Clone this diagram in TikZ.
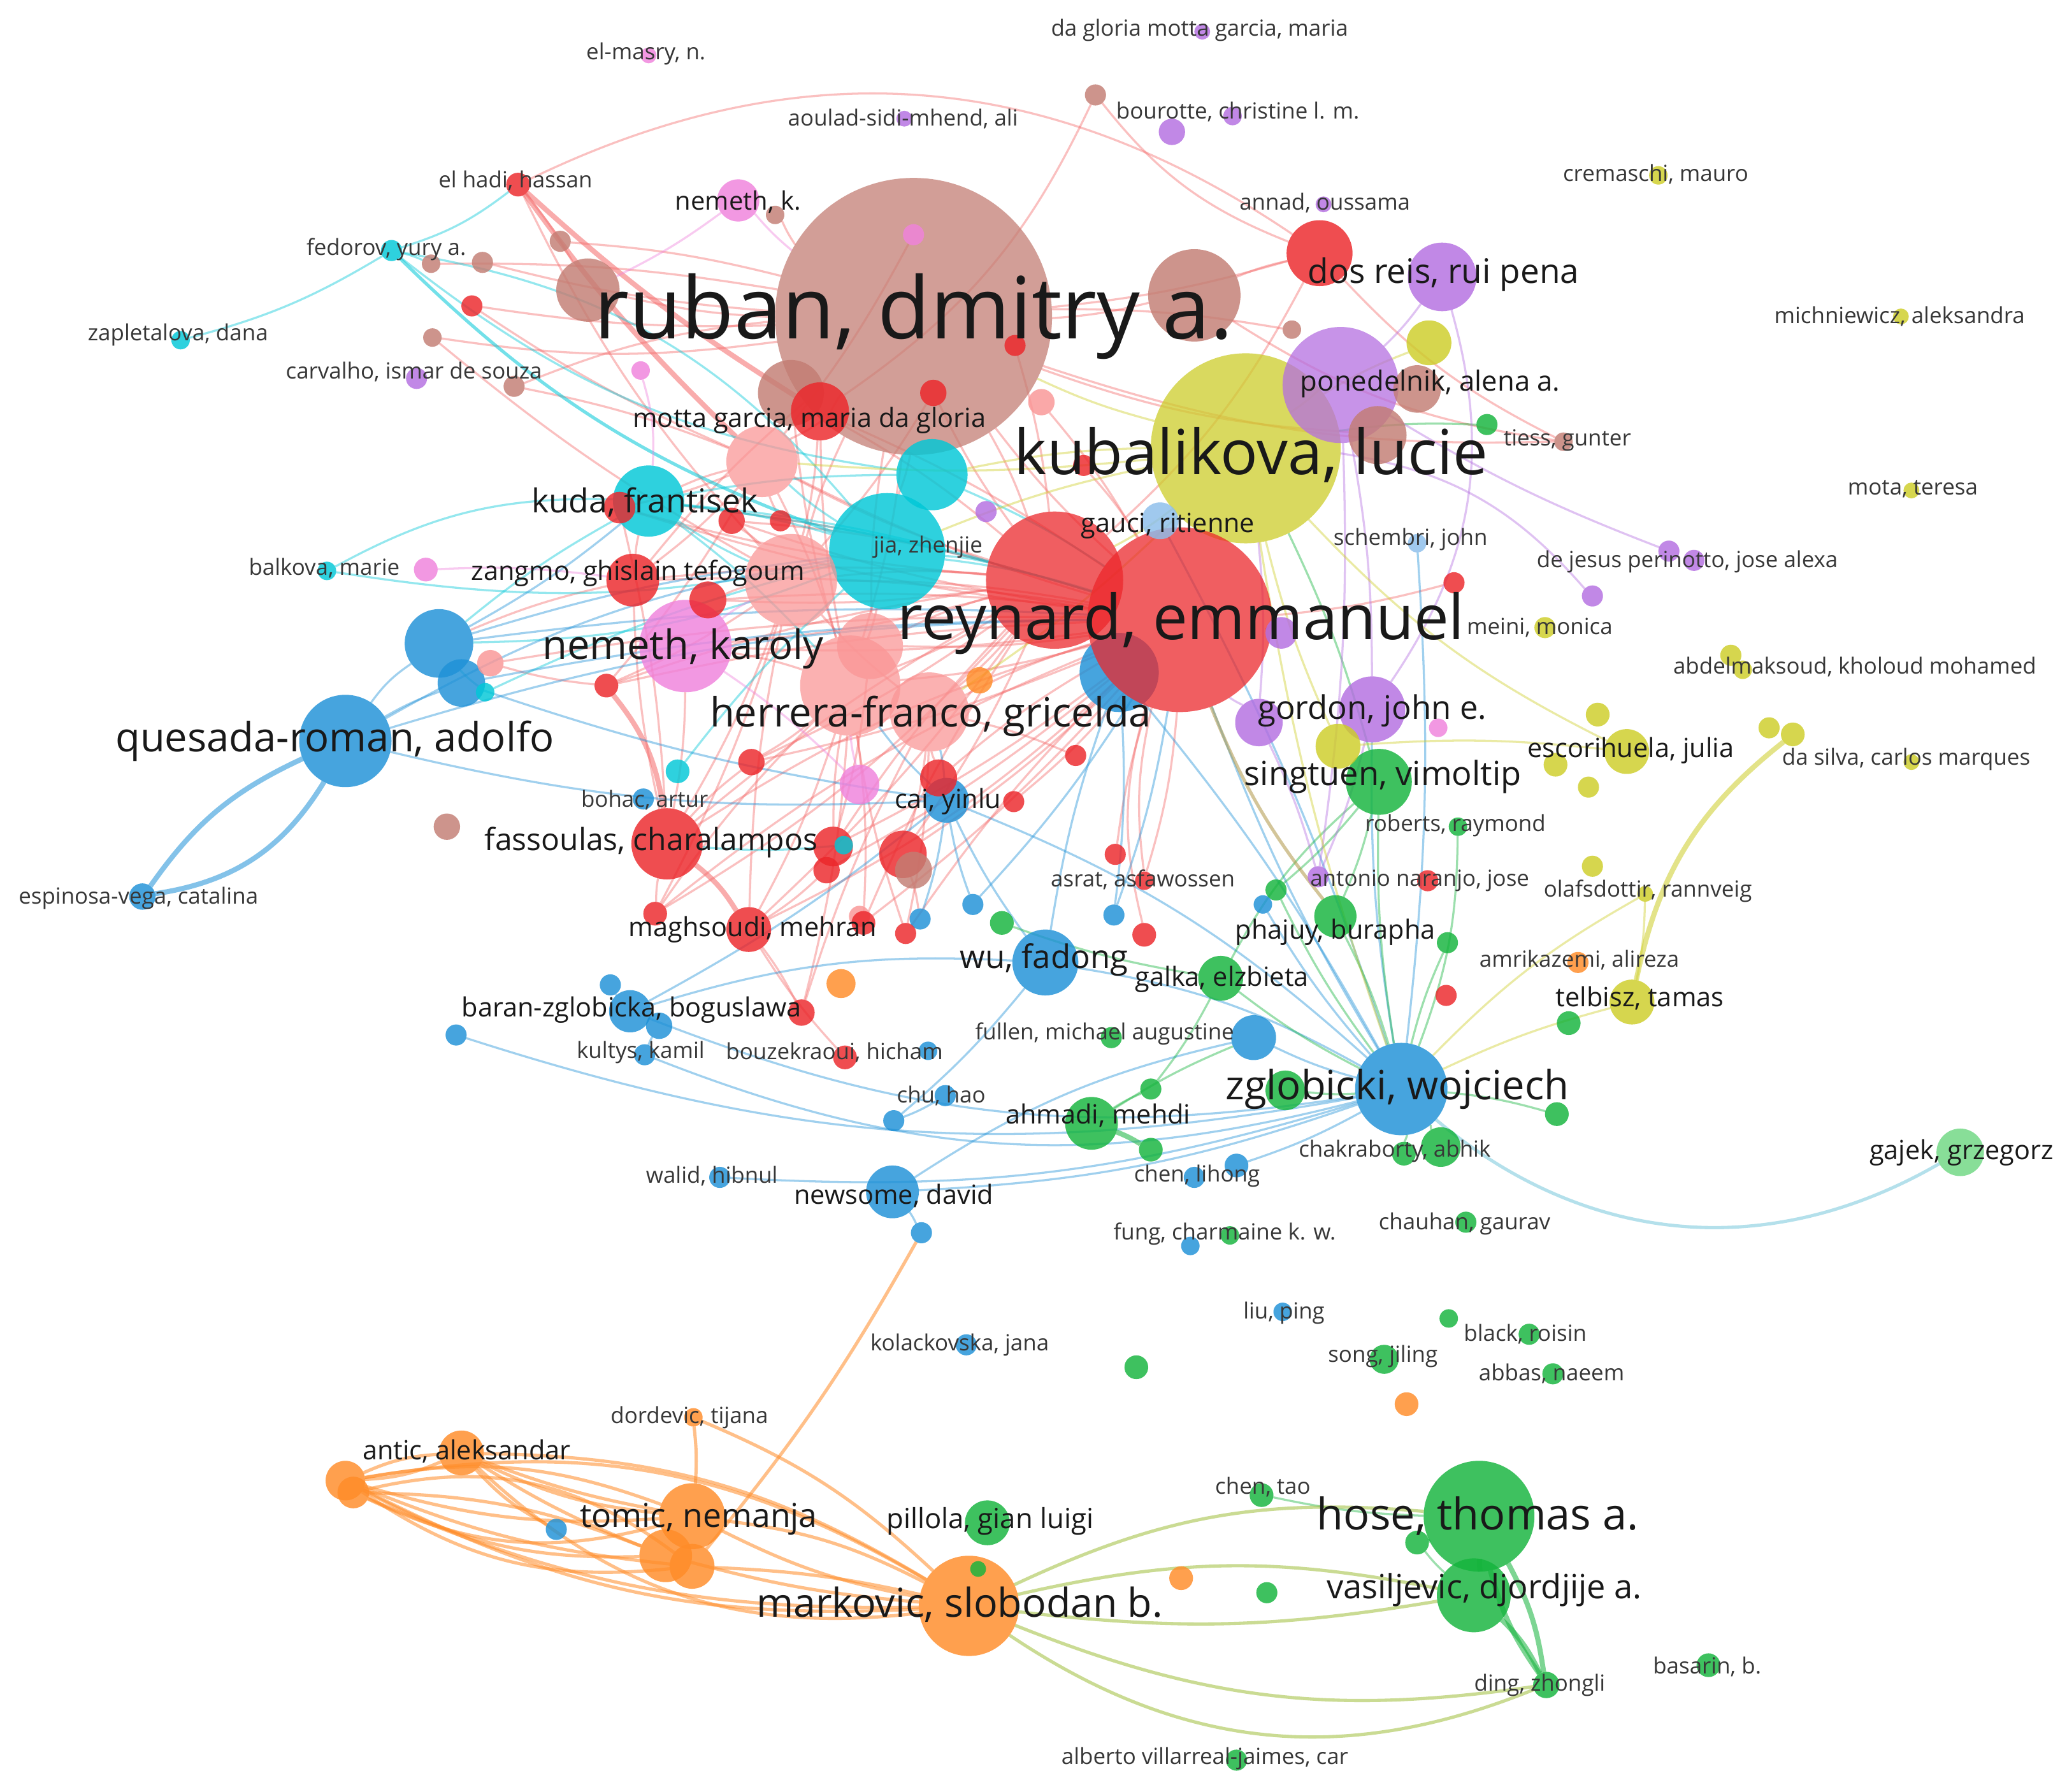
\documentclass[tikz,border=0pt]{standalone}
\usepackage{fontspec}
\setmainfont{Open Sans}
\definecolor{cR}{RGB}{236,38,42}
\definecolor{cRe}{RGB}{245,105,105}
\definecolor{cRL}{RGB}{250,150,150}
\definecolor{cBr}{RGB}{195,125,115}
\definecolor{cCy}{RGB}{0,200,215}
\definecolor{cBl}{RGB}{30,145,215}
\definecolor{cBlL}{RGB}{140,190,235}
\definecolor{cG}{RGB}{20,180,60}
\definecolor{cGL}{RGB}{110,215,130}
\definecolor{cY}{RGB}{205,205,40}
\definecolor{cP}{RGB}{180,110,225}
\definecolor{cPk}{RGB}{240,130,220}
\definecolor{cO}{RGB}{255,140,40}
\definecolor{cOl}{RGB}{175,150,70}
\definecolor{cGO}{RGB}{160,190,60}
\definecolor{cGj}{RGB}{120,200,220}
\definecolor{labc}{RGB}{25,25,25}
\definecolor{labs}{RGB}{55,55,55}
\pgfdeclarelayer{bgl}
\pgfdeclarelayer{edl}
\pgfsetlayers{bgl,edl,main}
\tikzset{
  au/.style={circle, inner sep=0pt, outer sep=0pt, draw=none, fill=#1, fill opacity=0.82},
  aub/.style={circle, inner sep=0pt, outer sep=0pt, draw=none, fill=#1, fill opacity=0.74},
  lab/.style={inner sep=0pt, text=labc},
  labsm/.style={inner sep=0pt, text=labs},
  edge/.style={draw=#1, line width=0.45pt, draw opacity=0.42},
  edgeT/.style={draw=#1, line width=1.1pt, draw opacity=0.55},
  edgeO/.style={draw=#1, line width=0.7pt, draw opacity=0.55},
}
\newcommand\AU[4]{\node[au=#4, minimum size=#3*0.02cm] (#1) at (#2) {};}
\newcommand\AB[4]{\node[aub=#4, minimum size=#3*0.02cm] (#1) at (#2) {};}
\newcommand\LB[4]{\node[lab, font=\fontsize{#3}{#3}\selectfont] (#1) at (#2) {#4};}
\newcommand\LS[3]{\node[labsm, font=\fontsize{4.8}{4.8}\selectfont] (#1) at (#2) {#3};}
\begin{document}
\begin{tikzpicture}[x=0.01cm,y=-0.01cm]
\begin{pgfonlayer}{bgl}
\fill[white] (0,0) rectangle (1568,1359);
\end{pgfonlayer}
\useasboundingbox (0,0) rectangle (1568,1359);
% ---------- large circles
\AB{ruban}{693,240}{105}{cBr}
\AB{kubalikova}{945,340}{72}{cY}
\AB{pone}{1017,292}{44}{cP}
\AB{rd9}{800,440}{52}{cR}
\AU{bl3}{849,510}{30}{cBl}
\AB{reynard}{895,470}{70}{cR}
\AU{jia}{673,418}{44}{cCy}
\AB{sa3}{645,520}{38}{cRL}
\AB{sa2}{600,440}{35}{cRL}
\AB{sa4}{705,540}{30}{cRL}
\AB{sa5}{660,490}{25}{cRL}
\AB{sa1}{578,350}{27}{cRL}
\AU{nemethkar}{520,490}{35}{cPk}
\AU{quesada}{262,562}{35}{cBl}
\AU{zglobicki}{1063,826}{35}{cBl}
\AU{hose}{1122,1150}{42}{cG}
\AU{markovic}{735,1218}{38}{cO}
\AU{br1}{906,224}{35}{cBr}
\AU{br16}{600,298}{25}{cBr}
\AU{rd3}{622,312}{22}{cR}
\AU{cy1}{707,360}{27}{cCy}
\AU{kuda}{492,380}{27}{cCy}
\AU{dosreis}{1094,210}{26}{cP}
\AU{rd2}{1001,192}{25}{cR}
\AU{fassoulas}{506,640}{27}{cR}
\AU{vasil}{1118,1210}{28}{cG}
\AU{tomic}{525,1150}{25}{cO}
\AU{or6}{505,1180}{20}{cO}
\AU{or7}{525,1188}{17}{cO}
\AU{bl1}{333,488}{26}{cBl}
\AU{bl2}{350,518}{18}{cBl}
\AU{br2}{446,220}{24}{cBr}
\AU{gordon}{1041,538}{25}{cP}
\AU{singtuen}{1046,593}{25}{cG}
\AU{wufadong}{793,730}{25}{cBl}
\AU{br12}{1045,330}{22}{cBr}
\AU{br11}{1075,295}{18}{cBr}
\AU{rd10}{480,440}{20}{cR}
\AU{rd27}{537,455}{14}{cR}
\AU{ahmadi}{828,852}{20}{cG}
\AU{newsome}{677,904}{20}{cBl}
\AU{pu2}{955,548}{18}{cP}
\AU{ye1}{1084,260}{17}{cY}
\AU{ye2}{1015,566}{17}{cY}
\AU{escor}{1234,570}{17}{cY}
\AU{telbisz}{1238,760}{17}{cY}
\AU{galka}{926,742}{17}{cG}
\AU{cai}{718,607}{17}{cBl}
\AU{rd16}{685,648}{18}{cR}
\AU{maghsoudi}{568,705}{17}{cR}
\AU{antic}{350,1102}{17}{cO}
\AU{pillola}{749,1155}{17}{cG}
\AU{bl11}{951,787}{17}{cBl}
\AU{gajek}{1487,874}{18}{cGL}
\AU{baran}{478,767}{16}{cBl}
\AU{phajuy}{1013,695}{16}{cG}
\AU{nemethk}{560,152}{16}{cPk}
\AU{pk4}{652,595}{15}{cPk}
\AU{rd14}{632,642}{15}{cR}
\AU{br15}{693,660}{14}{cBr}
\AU{rd29}{712,590}{14}{cR}
\AU{gauci}{880,395}{14}{cBlL}
\AU{gr3}{975,827}{15}{cG}
\AU{gr4}{1093,870}{15}{cG}
\AU{or4}{262,1123}{15}{cO}
\AU{or5}{268,1132}{12}{cO}
\AU{pu3}{972,480}{12}{cP}
\AU{rd7}{470,385}{12}{cR}
\AU{rd8}{555,395}{10}{cR}
\AU{rd4}{708,298}{10}{cR}
\AU{sa7}{790,305}{10}{cRL}
\AU{sa6}{372,503}{10}{cRL}
\AU{rd11}{460,520}{9}{cR}
\AU{rd13}{570,578}{10}{cR}
\AU{rd15}{627,660}{10}{cR}
\AU{br14}{339,627}{10}{cBr}
\AU{espinosa}{108,680}{10}{cBl}
\AU{or1}{743,516}{10}{cO}
\AU{or2}{638,746}{11}{cO}
\AU{rd24}{608,768}{10}{cR}
\AU{bl8}{500,778}{10}{cBl}
\AU{bour1}{889,100}{10}{cP}
\AU{song}{1050,1031}{11}{cG}
\AU{ding}{1173,1278}{10}{cG}
% ---------- small circles
\AU{elmasry}{492,42}{6}{cPk}
\AU{dagloria}{912,24}{6}{cP}
\AU{aoulad}{686,90}{6}{cP}
\AU{br9}{831,72}{8}{cBr}
\AU{bour2}{935,88}{7}{cP}
\AU{cremaschi}{1258,133}{7}{cY}
\AU{elhadi}{393,140}{9}{cR}
\AU{annad}{1004,155}{6}{cP}
\AU{fedorov}{297,190}{8}{cCy}
\AU{br3}{327,200}{7}{cBr}
\AU{br4}{366,199}{8}{cBr}
\AU{br5}{425,183}{8}{cBr}
\AU{br8}{588,163}{7}{cBr}
\AU{rd1}{358,232}{8}{cR}
\AU{br6}{328,256}{7}{cBr}
\AU{zapletalova}{137,258}{7}{cCy}
\AU{carvalho}{316,287}{8}{cP}
\AU{br7}{390,293}{8}{cBr}
\AU{pk1}{486,281}{7}{cPk}
\AU{pk2}{693,178}{8}{cPk}
\AU{rd5}{770,262}{8}{cR}
\AU{br10}{980,250}{7}{cBr}
\AU{michn}{1442,240}{6}{cY}
\AU{gr1}{1128,322}{8}{cG}
\AU{br13}{1186,335}{7}{cBr}
\AU{rd6}{822,353}{8}{cR}
\AU{mota}{1450,372}{6}{cY}
\AU{pu1}{748,388}{8}{cP}
\AU{schembri}{1075,412}{7}{cBlL}
\AU{pu4}{1266,418}{8}{cP}
\AU{pu5}{1285,425}{8}{cP}
\AU{rd28}{592,395}{8}{cR}
\AU{balkova}{248,433}{7}{cCy}
\AU{pk3}{323,432}{9}{cPk}
\AU{rd12}{1103,442}{8}{cR}
\AU{pu6}{1208,452}{8}{cP}
\AU{meini}{1172,476}{8}{cY}
\AU{abdel1}{1313,497}{8}{cY}
\AU{abdel2}{1322,508}{7}{cY}
\AU{cy2}{368,525}{7}{cCy}
\AU{ye3}{1212,542}{9}{cY}
\AU{pk5}{1091,552}{7}{cPk}
\AU{dasilva1}{1342,552}{8}{cY}
\AU{dasilva2}{1360,557}{9}{cY}
\AU{rd18}{816,573}{8}{cR}
\AU{ye4}{1180,580}{9}{cY}
\AU{dasilva3}{1450,578}{6}{cY}
\AU{cy3}{514,585}{9}{cCy}
\AU{ye5}{1205,597}{8}{cY}
\AU{bohac}{488,606}{8}{cBl}
\AU{rd17}{769,608}{8}{cR}
\AU{roberts}{1106,627}{7}{cG}
\AU{cy4}{640,641}{7}{cCy}
\AU{rd19}{846,648}{8}{cR}
\AU{olaf1}{1208,657}{8}{cY}
\AU{naranjo}{1000,665}{8}{cP}
\AU{rd25}{1083,668}{8}{cR}
\AU{asrat}{868,668}{7}{cR}
\AU{gr9}{968,675}{8}{cG}
\AU{olaf2}{1248,678}{6}{cY}
\AU{bl16}{958,686}{7}{cBl}
\AU{bl5}{738,686}{8}{cBl}
\AU{rd20}{497,693}{9}{cR}
\AU{sa8}{652,695}{8}{cRL}
\AU{bl4}{698,697}{8}{cBl}
\AU{bl6}{845,694}{8}{cBl}
\AU{rd21}{655,700}{9}{cR}
\AU{gr2}{760,700}{9}{cG}
\AU{rd22}{687,708}{8}{cR}
\AU{rd23}{868,709}{9}{cR}
\AU{gr10}{1098,715}{8}{cG}
\AU{amrik}{1197,730}{8}{cO}
\AU{bl7}{463,747}{8}{cBl}
\AU{rd26}{1097,755}{8}{cR}
\AU{gr11}{1190,776}{9}{cG}
\AU{bl9}{346,785}{8}{cBl}
\AU{fullen}{843,787}{8}{cG}
\AU{bl10}{704,797}{7}{cBl}
\AU{kultys}{489,800}{8}{cBl}
\AU{bouzek}{641,802}{9}{cR}
\AU{gr5}{873,826}{8}{cG}
\AU{chuhao}{717,831}{8}{cBl}
\AU{gr8}{1181,845}{9}{cG}
\AU{bl12}{678,850}{8}{cBl}
\AU{gr6}{873,872}{9}{cG}
\AU{chakra}{1065,875}{9}{cG}
\AU{chenlihong}{938,884}{9}{cBl}
\AU{bl13}{906,893}{8}{cBl}
\AU{walid}{546,893}{8}{cBl}
\AU{chauhan}{1112,927}{8}{cG}
\AU{bl14}{699,935}{8}{cBl}
\AU{gr7}{933,937}{7}{cG}
\AU{fung}{903,945}{7}{cBl}
\AU{liuping}{973,995}{7}{cBl}
\AU{gr13}{1099,1000}{7}{cG}
\AU{black}{1160,1012}{8}{cG}
\AU{kolack}{733,1020}{8}{cBl}
\AU{gr12}{862,1037}{9}{cG}
\AU{abbas}{1178,1042}{8}{cG}
\AU{or3}{1067,1065}{9}{cO}
\AU{dordevic}{526,1075}{7}{cO}
\AU{chentao}{957,1134}{9}{cG}
\AU{bl15}{422,1160}{8}{cBl}
\AU{gr15}{1075,1170}{9}{cG}
\AU{gr14}{742,1190}{6}{cG}
\AU{or8}{896,1197}{9}{cO}
\AU{gr16}{961,1208}{8}{cG}
\AU{basarin}{1296,1263}{9}{cG}
\AU{alberto}{938,1335}{8}{cG}
% ---------- edges
\begin{pgfonlayer}{edl}
\foreach \a/\b/\c in {elhadi/rd2/30, br9/rd2/-15, br9/rd3/15, rd2/ruban/5, rd2/br13/-10, rd2/rd9/10,
 ruban/br2/5, ruban/br3/-5, ruban/br4/5, ruban/br5/-5, ruban/br6/8, ruban/br7/-8, ruban/br8/5, ruban/br1/-5,
 ruban/rd1/5, ruban/br10/5, ruban/sa1/5, ruban/sa2/-5, ruban/rd9/5, ruban/reynard/-5, ruban/jia/5, ruban/br12/-8,
 ruban/br13/-10, br1/br13/-12, br1/rd2/5, elhadi/sa2/-8, elhadi/br2/5,
 reynard/sa1/5, reynard/sa2/-5, reynard/sa3/5, reynard/sa4/-5, reynard/sa5/5, reynard/rd10/-5, reynard/nemethkar/5,
 reynard/fassoulas/-8, reynard/maghsoudi/8, reynard/kuda/-5, reynard/rd7/5, reynard/sa6/-5, reynard/rd14/5,
 reynard/asrat/-10, reynard/asrat/6, reynard/rd19/-5, reynard/rd23/-15, reynard/rd17/5, reynard/rd12/-5,
 rd9/sa1/5, rd9/sa2/-5, rd9/sa3/5, rd9/rd10/-5, rd9/nemethkar/5, rd9/fassoulas/-5, rd9/maghsoudi/5, rd9/rd11/-5,
 rd9/rd16/5, rd9/rd4/5, sa2/fassoulas/5, sa2/maghsoudi/-5, sa2/rd11/5, sa3/maghsoudi/5, sa3/rd20/-5, sa3/rd21/5,
 sa3/rd22/-5, sa4/rd22/5, sa1/rd10/5, sa1/kuda/-5, sa1/rd7/5, sa5/rd14/5, sa4/rd16/5,
 fassoulas/rd13/5, fassoulas/rd20/-5, maghsoudi/rd24/5, maghsoudi/bouzek/-5, rd11/sa6/5, rd10/bl1/-5,
 rd10/kuda/5, nemethkar/sa3/5, nemethkar/fassoulas/5, jia/sa3/5, jia/sa2/-5, rd8/sa2/5, rd28/sa1/5, rd13/sa3/-5,
 rd15/maghsoudi/5, rd14/sa3/5, rd29/sa4/5, rd18/sa4/-5, rd16/bl4/5, rd27/sa2/5, rd3/sa2/5, sa7/reynard/5,
 rd6/reynard/5, rd5/rd9/5, pk2/sa1/5, rd1/sa1/-5, br7/sa1/5, br6/sa2/-5,
 rd9/sa4/5, rd9/sa5/-5, rd9/rd7/5, rd9/rd8/-5, rd9/rd27/5, rd9/rd13/5, rd9/rd14/-5, rd9/rd20/8, rd9/rd21/-5,
 reynard/rd8/5, reynard/rd27/-5, reynard/rd13/5, reynard/rd20/-8, reynard/rd21/5, reynard/rd22/-5,
 reynard/rd16/5, reynard/rd29/-5, reynard/rd15/5, reynard/rd11/-5, sa1/sa3/5, sa2/sa4/-5, sa1/rd11/5,
 sa3/rd24/5, sa4/rd24/-5, sa2/rd20/5, rd10/fassoulas/-5, rd7/fassoulas/5, rd3/sa3/-5, rd3/rd9/5, rd3/reynard/5,
 ruban/sa3/5, ruban/sa5/-5, ruban/rd3/5, ruban/rd10/-5, rd4/sa2/5, br16/sa3/-5}
  \draw[edge=cRe] (\a) to[bend left=\c] (\b);
\foreach \a/\b/\c in {fassoulas/rd11/-15, elhadi/sa1/-5, fassoulas/maghsoudi/10, elhadi/rd3/-5}
  \draw[edgeT=cRe] (\a) to[bend left=\c] (\b);
\foreach \a/\b/\c in {fedorov/zapletalova/8, fedorov/cy1/-15, fedorov/jia/20, fedorov/br3/5, fedorov/elhadi/-10,
 balkova/kuda/15, balkova/jia/-10, kuda/jia/5, kuda/cy1/5, kuda/reynard/5, kuda/bl1/-5, cy1/jia/5, jia/bl1/10,
 cy2/bl1/5, cy3/jia/5, cy2/jia/5, cy1/reynard/5, kuda/sa3/5, jia/rd9/5, cy4/fassoulas/5, jia/reynard/5,
 kuda/sa2/-5, kuda/rd9/5, jia/sa1/5}
  \draw[edge=cCy] (\a) to[bend left=\c] (\b);
\draw[edgeO=cCy] (fedorov) to[bend left=-12] (jia);
\foreach \a/\b/\c in {quesada/bl1/10, quesada/reynard/8, quesada/cai/-8, quesada/jia/10, quesada/bl2/5,
 bl1/kuda/-5, bl1/jia/5, bl1/reynard/5, bl2/cai/-5, bl2/reynard/5,
 zglobicki/baran/15, zglobicki/kultys/18, zglobicki/bl9/14, zglobicki/newsome/8, zglobicki/walid/10,
 zglobicki/wufadong/-10, zglobicki/bl11/5, zglobicki/reynard/5, zglobicki/cai/-10, zglobicki/bl3/-5,
 zglobicki/bl16/5, zglobicki/chenlihong/5, zglobicki/gordon/5, wufadong/baran/-10, wufadong/cai/5,
 wufadong/bl3/5, wufadong/bl12/5, baran/cai/-5, cai/sa3/5, cai/sa4/-5, cai/bl4/5, cai/bl5/-5,
 bl11/newsome/-10, newsome/bl14/5, chuhao/bl12/5, bl3/bl6/5, reynard/bl6/5, reynard/bl5/5, gauci/zglobicki/5,
 schembri/zglobicki/5, baran/bl7/5, baran/bl8/5, kultys/bl8/5}
  \draw[edge=cBl] (\a) to[bend left=\c] (\b);
\draw[edgeT=cBl] (quesada) to[bend left=25] (espinosa);
\draw[edgeT=cBl] (quesada) to[bend left=-15] (espinosa);
\draw[edgeO=cGj] (zglobicki) to[bend left=-35] (gajek);
\foreach \a/\b/\c in {zglobicki/galka/5, zglobicki/singtuen/5, zglobicki/phajuy/-5, zglobicki/gr10/5,
 zglobicki/roberts/-10, zglobicki/gr3/5, zglobicki/gr4/5, zglobicki/chakra/5, zglobicki/gr8/5, zglobicki/gr9/5,
 singtuen/galka/-10, singtuen/gr9/5, singtuen/phajuy/5, galka/gr2/5, galka/gr5/5, ahmadi/gr5/5, ahmadi/bl11/5,
 hose/gr15/5, vasil/gr15/5, hose/chentao/5, kubalikova/singtuen/5, kubalikova/gr1/5}
  \draw[edge=cG] (\a) to[bend left=\c] (\b);
\foreach \a/\b/\c in {ahmadi/gr6/5, hose/vasil/5, hose/ding/-10, vasil/ding/10, hose/ding/10}
  \draw[edgeT=cG] (\a) to[bend left=\c] (\b);
\foreach \a/\b/\c in {markovic/vasil/12, markovic/hose/15, markovic/ding/-15, markovic/ding/-28, markovic/vasil/-8}
  \draw[edgeO=cGO] (\a) to[bend left=\c] (\b);
\foreach \a/\b/\c in {dosreis/gordon/25, pone/naranjo/5, gordon/naranjo/5, pu2/naranjo/5, pone/gordon/5,
 kubalikova/pu6/20, pone/pu4/-5, reynard/pu3/5, pu2/reynard/5, dosreis/pone/5, kubalikova/pu2/5}
  \draw[edge=cP] (\a) to[bend left=\c] (\b);
\foreach \a/\b/\c in {pk3/rd10/5, nemethkar/sa2/5, pk1/kuda/10, nemethk/br2/5, nemethk/ruban/-5,
 nemethkar/pk4/5, pk4/sa3/5}
  \draw[edge=cPk] (\a) to[bend left=\c] (\b);
\foreach \a/\b/\c in {olaf2/telbisz/5, zglobicki/telbisz/5, zglobicki/olaf2/8, kubalikova/ye1/5,
 kubalikova/pone/5, kubalikova/reynard/5, kubalikova/ruban/5, kubalikova/ye2/-5, kubalikova/escor/-10,
 kubalikova/zglobicki/-5, kubalikova/rd9/5, kubalikova/sa4/5, ye2/escor/5, kubalikova/jia/-5,
 kubalikova/sa1/5, kubalikova/cy1/-5}
  \draw[edge=cY] (\a) to[bend left=\c] (\b);
\draw[edgeT=cY] (telbisz) to[bend left=20] (dasilva2);
\draw[edgeO=cOl] (reynard) to[bend left=-8] (phajuy);
\foreach \a/\b/\c in {markovic/tomic/-10, markovic/tomic/8, markovic/antic/-15, markovic/or4/15,
 markovic/or4/-20, markovic/or5/12, markovic/or6/5, markovic/or7/-5, markovic/dordevic/-10, tomic/or4/-15,
 tomic/or4/10, tomic/antic/5, antic/or4/10, antic/or4/-10, or6/or4/15, or7/or4/20, antic/or6/-5,
 antic/tomic/-10, or5/or6/10, or5/tomic/-20, antic/bl15/-10, or7/bl14/-5, dordevic/tomic/5, antic/markovic/-25,
 or5/or7/25, or4/or7/-8}
  \draw[edgeO=cO] (\a) to[bend left=\c] (\b);
\end{pgfonlayer}
% ---------- labels
\LB{Lruban}{693,240}{18.5}{ruban, dmitry a.}
\LB{Lkub}{949,345}{13.4}{kubalikova, lucie}
\LB{Lrey}{896,473}{13.4}{reynard, emmanuel}
\LB{Lquesada}{254,562}{8.7}{quesada-roman, adolfo}
\LB{Lnemkar}{518,492}{8.7}{nemeth, karoly}
\LB{Lherrera}{706,543}{8.7}{herrera-franco, gricelda}
\LB{Lzglob}{1060,826}{8.7}{zglobicki, wojciech}
\LB{Lhose}{1121,1150}{9.4}{hose, thomas a.}
\LB{Lmark}{728,1217}{8.6}{markovic, slobodan b.}
\LB{Lkuda}{489,381}{7.1}{kuda, frantisek}
\LB{Ldosreis}{1095,208}{7.3}{dos reis, rui pena}
\LB{Lgordon}{1041,539}{7.0}{gordon, john e.}
\LB{Lsing}{1049,589}{7.2}{singtuen, vimoltip}
\LB{Lwu}{792,728}{7.0}{wu, fadong}
\LB{Ltomic}{530,1152}{7.1}{tomic, nemanja}
\LB{Lvasil}{1126,1206}{7.2}{vasiljevic, djordjije a.}
\LB{Lfass}{494,639}{6.6}{fassoulas, charalampos}
\LB{Lpone}{1085,291}{6.0}{ponedelnik, alena a.}
\LB{Lescor}{1237,569}{5.7}{escorihuela, julia}
\LB{Ltelb}{1244,757}{5.7}{telbisz, tamas}
\LB{Lgalka}{927,743}{5.7}{galka, elzbieta}
\LB{Lgajek}{1488,874}{5.7}{gajek, grzegorz}
\LB{Lzangmo}{484,435}{5.7}{zangmo, ghislain tefogoum}
\LB{Lmotta}{614,319}{5.7}{motta garcia, maria da gloria}
\LB{Lgauci}{886,399}{5.7}{gauci, ritienne}
\LB{Lmagh}{571,705}{5.7}{maghsoudi, mehran}
\LB{Lbaran}{479,766}{5.7}{baran-zglobicka, boguslawa}
\LB{Lphaj}{1013,707}{5.7}{phajuy, burapha}
\LB{Lahmadi}{833,846}{5.7}{ahmadi, mehdi}
\LB{Lnews}{678,907}{5.7}{newsome, david}
\LB{Lpill}{751,1154}{6.0}{pillola, gian luigi}
\LB{Lantic}{354,1101}{5.7}{antic, aleksandar}
\LB{Lcai}{719,608}{5.7}{cai, yinlu}
\LB{Lnemk}{560,153}{5.5}{nemeth, k.}
\LS{Lelmasry}{490,41}{el-masry, n.}
\LS{Ldagloria}{910,23}{da gloria motta garcia, maria}
\LS{Laoulad}{685,90}{aoulad-sidi-mhend, ali}
\LS{Lbour}{939,85}{bourotte, christine l. m.}
\LS{Lcrem}{1256,132}{cremaschi, mauro}
\LS{Lelhadi}{391,137}{el hadi, hassan}
\LS{Lannad}{1005,154}{annad, oussama}
\LS{Lfedorov}{293,189}{fedorov, yury a.}
\LS{Lmichn}{1441,240}{michniewicz, aleksandra}
\LS{Lzap}{135,254}{zapletalova, dana}
\LS{Lcarv}{314,282}{carvalho, ismar de souza}
\LS{Ltiess}{1189,334}{tiess, gunter}
\LS{Lmota}{1451,371}{mota, teresa}
\LS{Lbalk}{246,431}{balkova, marie}
\LS{Ljia}{704,415}{jia, zhenjie}
\LS{Lschem}{1070,409}{schembri, john}
\LS{Ldejesus}{1280,426}{de jesus perinotto, jose alexa}
\LS{Lmeini}{1168,476}{meini, monica}
\LS{Labdel}{1407,506}{abdelmaksoud, kholoud mohamed}
\LS{Ldasilva}{1446,576}{da silva, carlos marques}
\LS{Lbohac}{489,607}{bohac, artur}
\LS{Lroberts}{1104,626}{roberts, raymond}
\LS{Lasrat}{867,667}{asrat, asfawossen}
\LS{Lnaranjo}{1077,668}{antonio naranjo, jose}
\LS{Lolaf}{1250,676}{olafsdottir, rannveig}
\LS{Lespin}{105,681}{espinosa-vega, catalina}
\LS{Lamrik}{1198,728}{amrikazemi, alireza}
\LS{Lfullen}{838,784}{fullen, michael augustine}
\LS{Lkultys}{486,798}{kultys, kamil}
\LS{Lbouzek}{633,798}{bouzekraoui, hicham}
\LS{Lchu}{714,831}{chu, hao}
\LS{Lchakra}{1058,873}{chakraborty, abhik}
\LS{Lchenl}{908,892}{chen, lihong}
\LS{Lwalid}{540,892}{walid, hibnul}
\LS{Lfung}{929,936}{fung, charmaine k. w.}
\LS{Lchauhan}{1111,928}{chauhan, gaurav}
\LS{Lliu}{974,996}{liu, ping}
\LS{Lblack}{1157,1012}{black, roisin}
\LS{Lkolack}{728,1020}{kolackovska, jana}
\LS{Lsong}{1049,1029}{song, jiling}
\LS{Labbas}{1177,1042}{abbas, naeem}
\LS{Ldord}{523,1075}{dordevic, tijana}
\LS{Lchentao}{958,1128}{chen, tao}
\LS{Lding}{1168,1278}{ding, zhongli}
\LS{Lbasarin}{1295,1264}{basarin, b.}
\LS{Lalberto}{914,1334}{alberto villarreal-jaimes, car}
\end{tikzpicture}
\end{document}
